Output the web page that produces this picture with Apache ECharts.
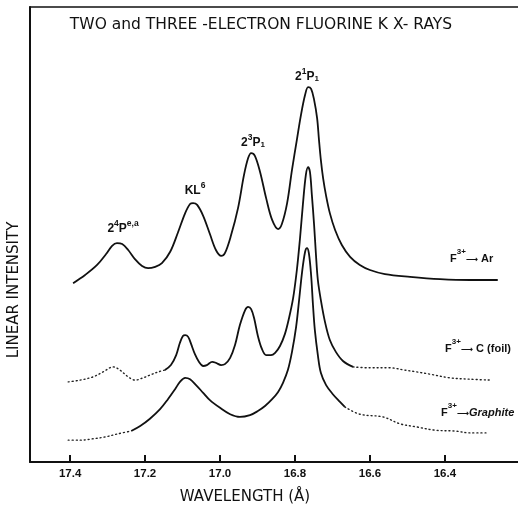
<!DOCTYPE html>
<html><head><meta charset="utf-8">
<script src="https://cdn.jsdelivr.net/npm/echarts@6/dist/echarts.min.js"></script>
<style>html,body{margin:0;padding:0;background:#fff}#c{width:518px;height:506px}</style>
</head><body><div id="c"></div>
<script>
// wavelength (Å), linear intensity (arb. units, 0-100)
const tickValues = [16.4, 16.6, 16.8, 17.0, 17.2, 17.4];

const arSpectrum = [[17.392,39.3],[17.360,41.1],[17.328,43.3],[17.304,45.7],[17.288,47.5],[17.275,48.1],[17.261,47.9],[17.245,46.6],[17.227,44.6],[17.208,43.1],[17.192,42.6],[17.173,42.9],[17.155,43.7],[17.133,46.2],[17.112,50.5],[17.093,54.7],[17.080,56.7],[17.072,56.9],[17.061,56.5],[17.045,54.1],[17.027,50.1],[17.011,46.6],[16.997,45.3],[16.987,45.9],[16.971,49.7],[16.952,55.8],[16.936,63.1],[16.925,66.8],[16.917,67.9],[16.907,67.3],[16.893,63.7],[16.877,58.0],[16.861,53.2],[16.845,51.2],[16.835,52.3],[16.821,56.9],[16.808,64.2],[16.795,70.8],[16.784,76.3],[16.773,80.7],[16.765,82.4],[16.757,82.0],[16.749,79.6],[16.741,75.6],[16.736,70.8],[16.731,66.4],[16.725,62.4],[16.717,58.5],[16.707,54.7],[16.693,51.0],[16.675,47.7],[16.653,45.1],[16.627,43.3],[16.600,42.2],[16.560,41.3],[16.493,40.7],[16.413,40.2],[16.333,40.0],[16.259,40.0]];

const foilDottedLow = [[17.405,17.6],[17.373,18.0],[17.339,18.7],[17.312,19.8],[17.285,20.9],[17.267,20.2],[17.245,18.7],[17.227,18.0],[17.205,18.5],[17.187,19.1],[17.165,19.8],[17.147,20.2]];
const foilSolid = [[17.147,20.2],[17.131,21.3],[17.117,23.5],[17.107,26.2],[17.099,27.7],[17.093,27.9],[17.085,27.5],[17.077,25.9],[17.067,23.7],[17.056,22.0],[17.045,21.1],[17.035,21.3],[17.021,22.0],[17.011,21.8],[16.997,21.3],[16.987,21.5],[16.973,22.9],[16.960,25.7],[16.947,30.1],[16.933,33.4],[16.925,34.1],[16.917,33.6],[16.909,31.6],[16.899,27.7],[16.888,24.8],[16.877,23.5],[16.864,23.5],[16.853,24.0],[16.840,25.5],[16.827,28.1],[16.816,31.6],[16.805,36.0],[16.795,42.2],[16.787,48.8],[16.779,56.5],[16.771,63.1],[16.765,64.8],[16.760,63.7],[16.755,58.7],[16.749,52.1],[16.744,45.5],[16.739,40.0],[16.731,35.6],[16.720,30.8],[16.707,26.8],[16.691,24.2],[16.672,22.2],[16.645,20.9]];
const foilDottedHigh = [[16.645,20.9],[16.600,20.7],[16.547,20.7],[16.507,20.2],[16.475,19.8],[16.440,19.3],[16.387,18.5],[16.333,18.2],[16.280,18.0]];

const graphiteDottedLow = [[17.405,4.8],[17.373,4.8],[17.339,5.1],[17.307,5.5],[17.272,6.2],[17.237,6.8]];
const graphiteSolid = [[17.237,6.8],[17.213,7.9],[17.187,9.5],[17.160,11.6],[17.139,13.8],[17.120,16.0],[17.107,17.6],[17.093,18.5],[17.080,18.2],[17.064,16.9],[17.045,15.2],[17.027,13.6],[17.000,11.9],[16.973,10.5],[16.947,9.9],[16.920,10.3],[16.899,11.2],[16.880,12.3],[16.861,13.8],[16.845,15.4],[16.832,17.4],[16.819,20.2],[16.808,24.2],[16.797,29.7],[16.789,35.6],[16.781,41.8],[16.773,46.2],[16.768,47.0],[16.763,45.9],[16.757,41.1],[16.752,34.5],[16.747,29.0],[16.739,23.5],[16.731,19.6],[16.717,16.9],[16.699,14.9],[16.680,13.2],[16.667,12.1]];
const graphiteDottedHigh = [[16.667,12.1],[16.627,10.5],[16.565,9.9],[16.520,8.4],[16.475,7.7],[16.427,7.0],[16.373,6.8],[16.333,6.4],[16.285,6.4]];

const chart = echarts.init(document.getElementById('c'), null, {renderer:'canvas'});
const solid = {color:'#111', width:1.8};
const dotted = {color:'#222', width:1.4, type:[1,3], cap:'round'};
function line(data, style){return {type:'line', data, showSymbol:false, smooth:0.35, lineStyle:style, silent:true, animation:false};}

const baseRich = {
  b:{fontFamily:'Liberation Sans', fontWeight:'bold', fontSize:12, lineHeight:16, verticalAlign:'bottom', fill:'#111'},
  sup:{fontFamily:'Liberation Sans', fontWeight:'bold', fontSize:8.5, lineHeight:16, verticalAlign:'top', fill:'#111'},
  sub:{fontFamily:'Liberation Sans', fontWeight:'bold', fontSize:8, lineHeight:12, verticalAlign:'bottom', fill:'#111'},
  s:{fontFamily:'Liberation Sans', fontWeight:'bold', fontSize:11, lineHeight:16, verticalAlign:'bottom', fill:'#111'},
  ssup:{fontFamily:'Liberation Sans', fontWeight:'bold', fontSize:8, lineHeight:16, verticalAlign:'top', fill:'#111'},
  arr:{fontFamily:'DejaVu Sans', fontWeight:'bold', fontSize:8.5, lineHeight:13, verticalAlign:'bottom', fill:'#111'},
  it:{fontFamily:'Liberation Sans', fontWeight:'bold', fontStyle:'italic', fontSize:11, lineHeight:16, verticalAlign:'bottom', fill:'#111'}
};
function rt(x, y, text, align){
  return {type:'text', x, y, silent:true, style:{text, rich:baseRich, align:align||'center', verticalAlign:'middle'}};
}

chart.setOption({
  animation:false,
  grid:{left:30, right:0, top:7, bottom:44},
  xAxis:[{
    type:'value', inverse:true, min:16.205, max:17.507,
    axisLine:{show:true, lineStyle:{color:'#111', width:2}},
    axisTick:{show:true, inside:true, length:7, lineStyle:{color:'#111', width:2}, customValues:tickValues},
    axisLabel:{customValues:tickValues, formatter:v=>v.toFixed(1), color:'#111', fontFamily:'Liberation Sans', fontWeight:'bold', fontSize:11.5, margin:6},
    splitLine:{show:false}
  },{
    type:'value', position:'top', inverse:true, min:16.205, max:17.507,
    axisLine:{show:true, lineStyle:{color:'#111', width:1.5}},
    axisTick:{show:false}, axisLabel:{show:false}, splitLine:{show:false}
  }],
  yAxis:{type:'value', min:0, max:100,
    axisLine:{show:true, lineStyle:{color:'#111', width:2}},
    axisTick:{show:false}, axisLabel:{show:false}, splitLine:{show:false}},
  series:[
    line(arSpectrum, solid),
    line(foilDottedLow, dotted), line(foilSolid, solid), line(foilDottedHigh, dotted),
    line(graphiteDottedLow, dotted), line(graphiteSolid, solid), line(graphiteDottedHigh, dotted)
  ],
  graphic:[
    {type:'text', x:261, y:25, silent:true, style:{text:'TWO and THREE -ELECTRON FLUORINE K X- RAYS', font:'15.5px "DejaVu Sans"', fill:'#111', align:'center', verticalAlign:'middle'}},
    {type:'text', x:245, y:497, silent:true, style:{text:'WAVELENGTH (Å)', font:'15px "DejaVu Sans"', fill:'#111', align:'center', verticalAlign:'middle'}},
    {type:'text', x:14, y:290, rotation:Math.PI/2, silent:true, style:{text:'LINEAR INTENSITY', font:'15px "DejaVu Sans"', fill:'#111', align:'center', verticalAlign:'middle'}},
    rt(307, 75, '{b|2}{sup|1}{b|P}{sub|1}'),
    rt(253, 141, '{b|2}{sup|3}{b|P}{sub|1}'),
    rt(195, 189, '{b|KL}{sup|6}'),
    rt(123, 227, '{b|2}{sup|4}{b|P}{sup|e,a}'),
    rt(450, 256, '{s|F}{ssup|3+}{arr|⟶}{s| Ar}', 'left'),
    rt(445, 346, '{s|F}{ssup|3+}{arr|⟶}{s| C (foil)}', 'left'),
    rt(441, 410, '{s|F}{ssup|3+}{arr|⟶}{it|Graphite}', 'left')
  ]
});
</script></body></html>
